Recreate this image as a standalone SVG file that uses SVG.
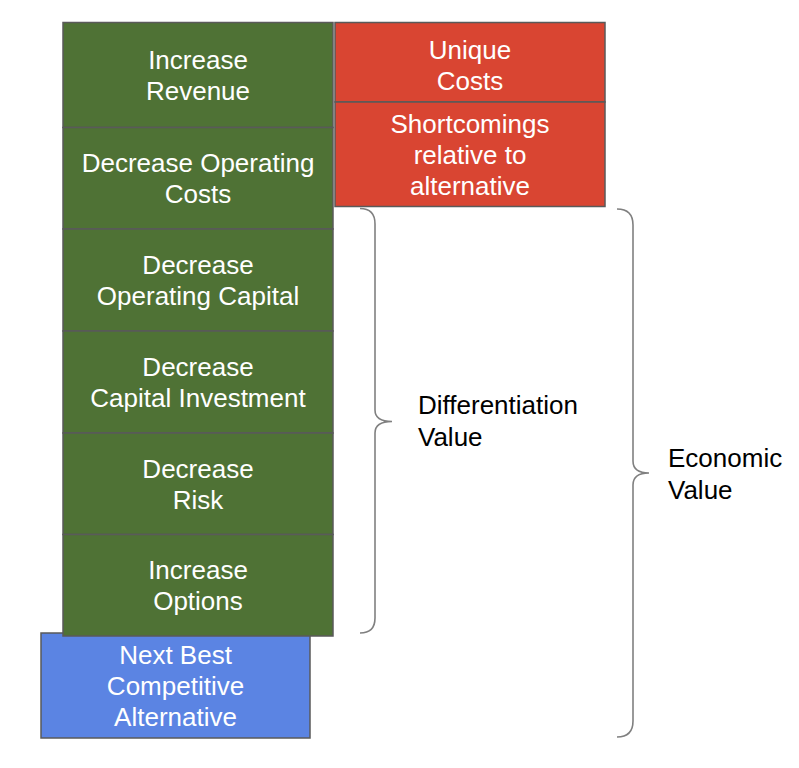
<svg xmlns="http://www.w3.org/2000/svg" width="799" height="768" viewBox="0 0 799 768">
<style>
.box{stroke:#5a5a5a;stroke-width:1.5}
.g{fill:#4f7235}
.r{fill:#d94532}
.b{fill:#5b84e3}
.t{font-family:"Liberation Sans",Arial,sans-serif;font-size:26px;fill:#ffffff;text-anchor:middle}
.k{font-family:"Liberation Sans",Arial,sans-serif;font-size:26px;fill:#000000}
.brace{fill:none;stroke:#808080;stroke-width:1.6}
</style>
<rect width="799" height="768" fill="#ffffff"/>
<g id="next-best">
<rect class="box b" x="41" y="633" width="269" height="105"/>
<text class="t" x="175.5" y="664">Next Best</text>
<text class="t" x="175.5" y="695">Competitive</text>
<text class="t" x="175.5" y="726">Alternative</text>
</g>
<g id="increase-revenue">
<rect class="box g" x="63" y="22.5" width="270" height="105"/>
<text class="t" x="198" y="69">Increase</text>
<text class="t" x="198" y="100">Revenue</text>
</g>
<g id="decrease-operating-costs">
<rect class="box g" x="63" y="127.5" width="270" height="101.5"/>
<text class="t" x="198" y="172">Decrease Operating</text>
<text class="t" x="198" y="203">Costs</text>
</g>
<g id="decrease-operating-capital">
<rect class="box g" x="63" y="229" width="270" height="102"/>
<text class="t" x="198" y="274">Decrease</text>
<text class="t" x="198" y="305">Operating Capital</text>
</g>
<g id="decrease-capital-investment">
<rect class="box g" x="63" y="331" width="270" height="102"/>
<text class="t" x="198" y="376">Decrease</text>
<text class="t" x="198" y="407">Capital Investment</text>
</g>
<g id="decrease-risk">
<rect class="box g" x="63" y="433" width="270" height="101.5"/>
<text class="t" x="198" y="477.5">Decrease</text>
<text class="t" x="198" y="508.5">Risk</text>
</g>
<g id="increase-options">
<rect class="box g" x="63" y="534.5" width="270" height="101.5"/>
<text class="t" x="198" y="579">Increase</text>
<text class="t" x="198" y="610">Options</text>
</g>
<g id="unique-costs">
<rect class="box r" x="335" y="22.5" width="270" height="79.5"/>
<text class="t" x="470" y="59">Unique</text>
<text class="t" x="470" y="90">Costs</text>
</g>
<g id="shortcomings">
<rect class="box r" x="335" y="102" width="270" height="104.5"/>
<text class="t" x="470" y="132.5">Shortcomings</text>
<text class="t" x="470" y="163.5">relative to</text>
<text class="t" x="470" y="194.5">alternative</text>
</g>
<g id="connectors">
<path class="brace" d="M360,208.5 Q375,208.5 375,224 L375,410 Q375,421.5 392,421.5 Q375,421.5 375,433 L375,618 Q375,633 360,633"/>
<path class="brace" d="M617,209 Q633,209 633,225 L633,461 Q633,473 649,473 Q633,473 633,485 L633,721 Q633,737 617,737"/>
</g>
<g id="differentiation-value">
<text class="k" x="418" y="414">Differentiation</text>
<text class="k" x="418" y="446">Value</text>
</g>
<g id="economic-value">
<text class="k" x="668" y="467">Economic</text>
<text class="k" x="668" y="499">Value</text>
</g>
</svg>
